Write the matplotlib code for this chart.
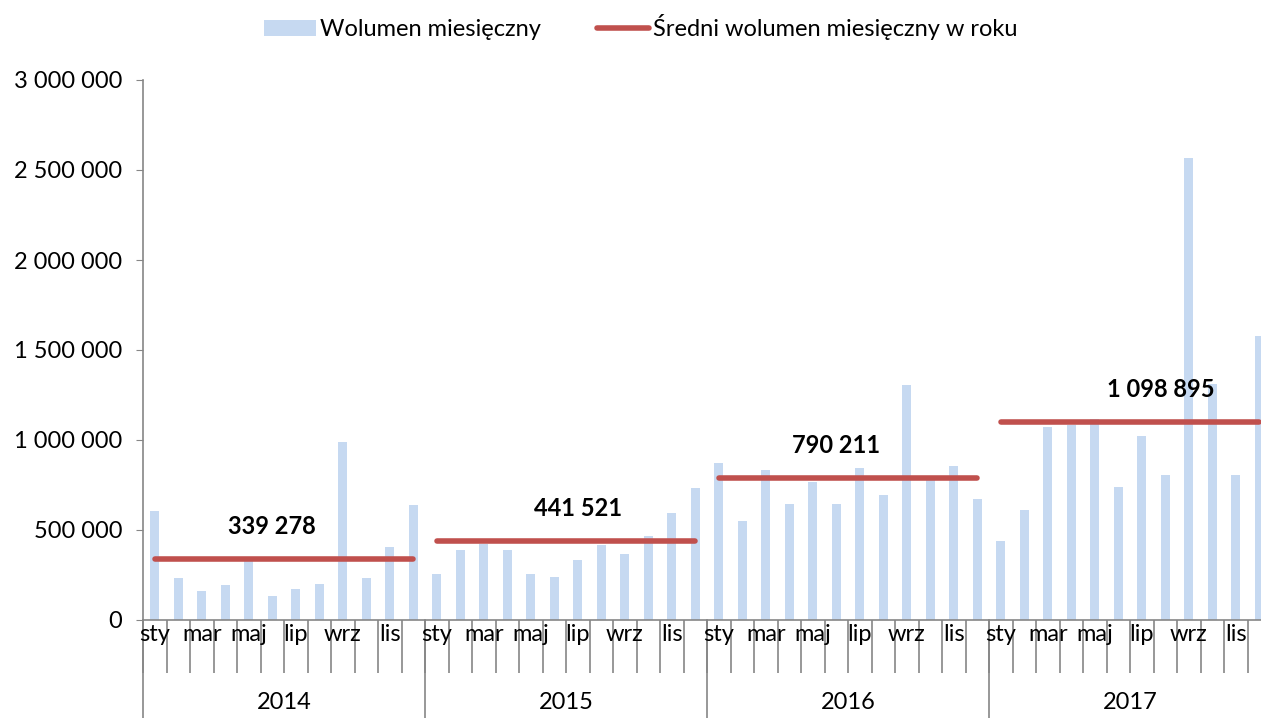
import numpy as np
import matplotlib
matplotlib.use("Agg")
import matplotlib.pyplot as plt
from matplotlib.lines import Line2D
from matplotlib.patches import Patch
from matplotlib.ticker import FuncFormatter

plt.rcParams["font.family"] = ["Lato", "DejaVu Sans"]

years = ["2014", "2015", "2016", "2017"]
months = ["sty", "lut", "mar", "kwi", "maj", "cze", "lip", "sie", "wrz", "paź", "lis", "gru"]
shown_months = ["sty", "mar", "maj", "lip", "wrz", "lis"]

vol_2014 = [607e3, 235e3, 161e3, 194e3, 330e3, 133e3, 170e3, 200e3, 989e3, 232e3, 406e3, 639e3]
vol_2015 = [257e3, 391e3, 423e3, 389e3, 253e3, 240e3, 335e3, 419e3, 368e3, 469e3, 592e3, 731e3]
vol_2016 = [872e3, 550e3, 836e3, 645e3, 769e3, 647e3, 846e3, 692e3, 1303e3, 780e3, 857e3, 672e3]
vol_2017 = [441e3, 610e3, 1075e3, 1085e3, 1117e3, 737e3, 1022e3, 804e3, 2564e3, 1309e3, 804e3, 1578e3]
year_avg = [339278, 441521, 790211, 1098895]
label_month = [5, 6, 5, 6.8]   # where the value label sits within its year

volumes = vol_2014 + vol_2015 + vol_2016 + vol_2017
x = np.arange(len(volumes))

BLUE = "#C6D9F1"
RED = "#C0504D"
GRAY = "#868686"
FS = 17

fig = plt.figure(figsize=(12.61, 7.18), dpi=100)
ax = fig.add_axes([143 / 1261, 98 / 718, 1128 / 1261, 540 / 718])

ax.bar(x, volumes, width=0.4, color=BLUE, zorder=1)

for i, avg in enumerate(year_avg):
    x0, x1 = i * 12, i * 12 + 11
    ax.plot([x0, x1], [avg, avg], color=RED, lw=4, solid_capstyle="round", zorder=2)
    ax.annotate(f"{avg:,}".replace(",", " "), (x0 + label_month[i], avg), xytext=(0, 15),
                textcoords="offset points", ha="center", va="bottom",
                fontsize=FS, fontweight="bold", zorder=3)

ax.set_xlim(-0.5, len(volumes) - 0.5)
ax.set_ylim(0, 3e6)
ax.set_yticks(np.arange(0, 3e6 + 1, 5e5))
ax.yaxis.set_major_formatter(FuncFormatter(lambda v, p: f"{int(v):,}".replace(",", " ")))
ax.tick_params(axis="y", labelsize=FS, length=5, color=GRAY, pad=10)

for s in ["top", "right"]:
    ax.spines[s].set_visible(False)
for s in ["left", "bottom"]:
    ax.spines[s].set_color(GRAY)
    ax.spines[s].set_linewidth(1.2)

# category boundaries as long ticks, labels drawn separately
ax.set_xticks(np.arange(-0.5, len(volumes), 1.0))
ax.set_xticklabels([])
ax.tick_params(axis="x", length=38, color=GRAY, width=1.2)

trans = ax.get_xaxis_transform()
for i in range(len(volumes)):
    m = months[i % 12]
    if m in shown_months:
        ax.text(i, -0.008, m, transform=trans, ha="center", va="top", fontsize=FS, clip_on=False)
for k, yr in enumerate(years):
    ax.plot([k * 12 - 0.5, k * 12 - 0.5], [0, -0.19], transform=trans, color=GRAY,
            lw=1.2, clip_on=False)
    ax.text(k * 12 + 5.5, -0.153, yr, transform=trans, ha="center", va="center",
            fontsize=FS, clip_on=False)

handles = [Patch(facecolor=BLUE, edgecolor="none", label="Wolumen miesięczny"),
           Line2D([0], [0], color=RED, lw=4, solid_capstyle="round",
                  label="Średni wolumen miesięczny w roku")]
fig.legend(handles=handles, loc="center", bbox_to_anchor=(0.508, 0.962), ncol=2,
           frameon=False, fontsize=FS, handlelength=2.2, handletextpad=0.15, columnspacing=2.4)

fig.savefig("out.png", dpi=100)
